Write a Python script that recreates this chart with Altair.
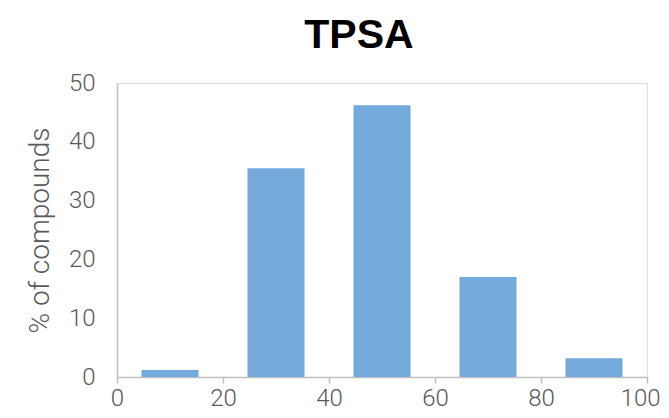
import altair as alt
import pandas as pd

bin_centers = [10, 30, 50, 70, 90]
percent = [1.2, 35.5, 46.2, 17.0, 3.2]

df = pd.DataFrame({"tpsa": bin_centers, "pct": percent})

FONT = "Roboto"
TITLE_FONT = "Liberation Sans"

chart = (
    alt.Chart(df)
    .mark_bar(size=57, color="#74A9DB")
    .encode(
        x=alt.X(
            "tpsa:Q",
            scale=alt.Scale(domain=[0, 100], nice=False, zero=True, padding=0),
            axis=alt.Axis(
                values=[0, 20, 40, 60, 80, 100],
                title=None,
                grid=False,
                domainColor="#BFBFBF",
                domainWidth=1.5,
                tickColor="#BFBFBF",
                tickWidth=1.5,
                tickSize=6,
                labelPadding=3,
                labelFont=FONT,
                labelFontWeight=300,
                labelFontSize=24,
                labelColor="#595959",
                labelFlush=False,
                labelBaseline="top",
                labelAlign={"condition": {"test": "datum.value == 100", "value": "right"}, "value": "center"},
                labelOffset={"condition": {"test": "datum.value == 100", "value": 13}, "value": 0},
            ),
        ),
        y=alt.Y(
            "pct:Q",
            scale=alt.Scale(domain=[0, 50], nice=False, padding=0),
            axis=alt.Axis(
                values=[0, 10, 20, 30, 40, 50],
                title="% of compounds",
                grid=False,
                ticks=False,
                domainColor="#BFBFBF",
                domainWidth=1.5,
                labelPadding=22,
                labelFont=FONT,
                labelFontWeight=300,
                labelFontSize=24,
                labelColor="#595959",
                titleFont=FONT,
                titleFontSize=28,
                titleFontWeight=300,
                titleColor="#595959",
                titlePadding=14,
            ),
        ),
    )
    .properties(
        width=530,
        height=294,
        title=alt.TitleParams(
            "TPSA",
            font=TITLE_FONT,
            fontSize=41,
            fontWeight="bold",
            color="#000000",
            anchor="middle",
            dx=-23,
            offset=14,
        ),
        autosize=alt.AutoSizeParams(type="none"),
        padding={"left": 109, "top": 75, "right": 14, "bottom": 33},
    )
    .configure_view(stroke=None)
    .configure(background="white")
)

chart.save("out.html", embed_options={"renderer": "svg", "actions": False})
